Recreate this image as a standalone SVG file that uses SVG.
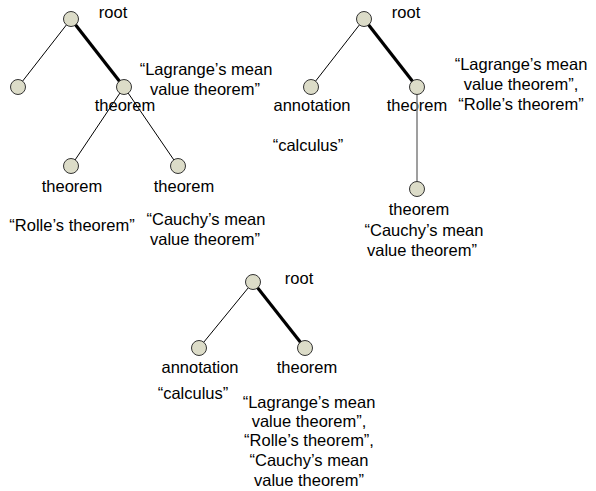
<svg xmlns="http://www.w3.org/2000/svg" width="596" height="491" viewBox="0 0 596 491">
<style>
text{font-family:"Liberation Sans",Arial,sans-serif;font-size:16.5px;fill:#000;text-anchor:middle}
.thin{stroke:#000;stroke-width:1;fill:none}
.thick{stroke:#000;stroke-width:3.2;fill:none}
.gray{stroke:#7f7f7f;stroke-width:1.5;fill:none}
.n{fill:#dcdcc8;stroke:#333;stroke-width:1}
</style>
<rect width="596" height="491" fill="#fff"/>
<g id="labels">
<text x="113" y="18">root</text>
<text x="125" y="111">theorem</text>
<text x="206" y="75">“Lagrange’s mean</text>
<text x="205" y="95">value theorem”</text>
<text x="72" y="192">theorem</text>
<text x="184" y="192">theorem</text>
<text x="72" y="231">“Rolle’s theorem”</text>
<text x="206" y="225">“Cauchy’s mean</text>
<text x="205" y="245">value theorem”</text>

<text x="406" y="18">root</text>
<text x="312" y="111">annotation</text>
<text x="417" y="111">theorem</text>
<text x="521" y="70">“Lagrange’s mean</text>
<text x="521" y="90">value theorem”,</text>
<text x="521" y="110">“Rolle’s theorem”</text>
<text x="308" y="151">“calculus”</text>
<text x="419" y="215">theorem</text>
<text x="424" y="236">“Cauchy’s mean</text>
<text x="422" y="256">value theorem”</text>

<text x="299" y="284">root</text>
<text x="200" y="373">annotation</text>
<text x="307" y="373">theorem</text>
<text x="193" y="399">“calculus”</text>
<text x="309" y="408">“Lagrange’s mean</text>
<text x="309" y="427">value theorem”,</text>
<text x="309" y="446">“Rolle’s theorem”,</text>
<text x="309" y="466">“Cauchy’s mean</text>
<text x="309" y="486">value theorem”</text>
</g>
<g id="connectors">
<line class="thin" x1="71" y1="19" x2="18" y2="87"/>
<line class="thick" x1="71" y1="19" x2="124" y2="87"/>
<line class="thin" x1="124" y1="87" x2="71" y2="166"/>
<line class="thin" x1="124" y1="87" x2="178" y2="166"/>
<line class="thin" x1="364" y1="19" x2="311" y2="87"/>
<line class="thick" x1="364" y1="19" x2="417" y2="87"/>
<line class="gray" x1="417" y1="87" x2="417" y2="189"/>
<line class="thin" x1="253" y1="282" x2="199" y2="348"/>
<line class="thick" x1="253" y1="282" x2="305" y2="348"/>
</g>
<g id="t1-root"><circle class="n" cx="71" cy="19" r="7.5"/></g>
<g id="t1-left"><circle class="n" cx="18" cy="87" r="7.5"/></g>
<g id="t1-theorem"><circle class="n" cx="124" cy="87" r="7.5"/></g>
<g id="t1-theorem-a"><circle class="n" cx="71" cy="166" r="7.5"/></g>
<g id="t1-theorem-b"><circle class="n" cx="178" cy="166" r="7.5"/></g>
<g id="t2-root"><circle class="n" cx="364" cy="19" r="7.5"/></g>
<g id="t2-annotation"><circle class="n" cx="311" cy="87" r="7.5"/></g>
<g id="t2-theorem"><circle class="n" cx="417" cy="87" r="7.5"/></g>
<g id="t2-theorem-b"><circle class="n" cx="417" cy="189" r="7.5"/></g>
<g id="t3-root"><circle class="n" cx="253" cy="282" r="7.5"/></g>
<g id="t3-annotation"><circle class="n" cx="199" cy="348" r="7.5"/></g>
<g id="t3-theorem"><circle class="n" cx="305" cy="348" r="7.5"/></g>
</svg>
